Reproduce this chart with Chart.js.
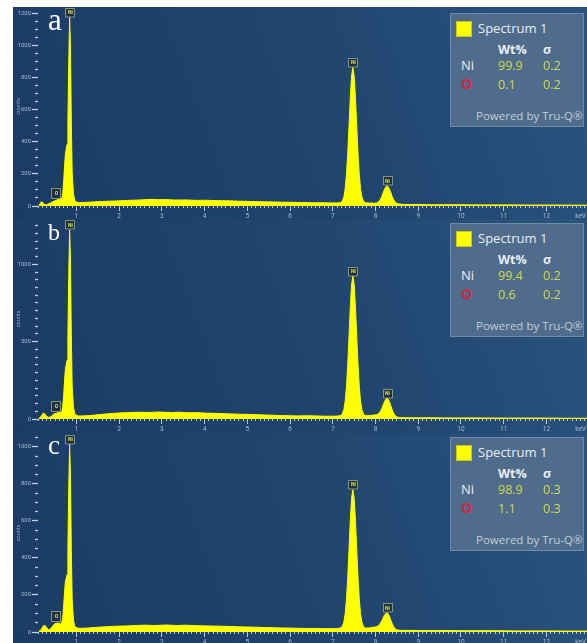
<!DOCTYPE html>
<html lang="en">
<head>
<meta charset="UTF-8">
<title>EDS spectra a, b, c</title>
<style>
  body {
    margin: 0;
    width: 587px;
    height: 643px;
    overflow: hidden;
    position: relative;
    background: #ffffff;
    font-family: 'Open Sans', sans-serif;
  }
  .panel { position: absolute; left: 13px; width: 574px; overflow: hidden; }
  .panel canvas { position: absolute; left: 0; top: 0; }
  .tag {
    position: absolute;
    left: 35px;
    font-family: 'Liberation Serif', serif;
    color: #ffffff;
    line-height: 1;
  }
  .legend {
    position: absolute;
    left: 437px;
    width: 134px;
    height: 114px;
    box-sizing: border-box;
    background: #4f6c8c;
    border: 1px solid rgba(190, 205, 222, 0.3);
    color: #e8eef4;
  }
  .legend span { position: absolute; white-space: nowrap; line-height: 1; }
  .legend .swatch { left: 5px; top: 7px; width: 16px; height: 16px; background: #ffff00; border: 1px solid #c9c900; box-sizing: border-box; }
  .legend .name { left: 27px; top: 8px; font-size: 13px; }
  .legend .head { top: 30px; font-size: 12.5px; font-weight: bold; }
  .legend .el { left: 10px; font-size: 13px; }
  .legend .val { font-size: 12.5px; color: #cfdb45; }
  .legend .pow { left: 25px; top: 96px; font-size: 11.5px; color: #c3ccd6; }
</style>
<script src="https://cdn.jsdelivr.net/npm/chart.js"></script>
</head>
<body>

<div class="panel" id="panelA"><canvas id="chartA" width="574" height="212"></canvas></div>
<div class="panel" id="panelB"><canvas id="chartB" width="574" height="215"></canvas></div>
<div class="panel" id="panelC"><canvas id="chartC" width="574" height="209"></canvas></div>

<script>
// energy axis (keV), shared by the three spectra
const energyKeV = [
  0.12, 0.15, 0.18, 0.21, 0.25, 0.3, 0.35, 0.4, 0.45, 0.5, 0.55,
  0.6, 0.63, 0.66, 0.68, 0.70, 0.72, 0.74, 0.76, 0.78, 0.80, 0.82, 0.84, 0.86, 0.88, 0.90, 0.93, 0.96, 1.0, 1.05,
  1.15, 1.3, 1.45, 1.6, 1.75, 1.9, 2.05, 2.2, 2.35, 2.5, 2.65, 2.8, 2.95, 3.1, 3.25, 3.4, 3.55, 3.7, 3.85, 4.0,
  4.2, 4.4, 4.6, 4.8, 5.0, 5.2, 5.4, 5.6, 5.8, 6.0, 6.2, 6.4, 6.6, 6.8, 7.0, 7.1,
  7.17, 7.22, 7.26, 7.29, 7.32, 7.35, 7.38, 7.41, 7.44, 7.47, 7.50, 7.53, 7.56, 7.59, 7.62, 7.65, 7.68, 7.72, 7.77,
  7.85, 7.92,
  7.97, 8.02, 8.06, 8.09, 8.12, 8.15, 8.18, 8.21, 8.24, 8.27, 8.30, 8.33, 8.36, 8.39, 8.42, 8.45, 8.48, 8.52, 8.57,
  8.65, 8.8, 9.0, 9.3, 9.6, 10.0, 10.4, 10.8, 11.2, 11.6, 12.0, 12.4, 12.8, 12.95
];

// counts
const countsA = [
  6, 15, 26, 22, 10, 8, 14, 20, 27, 33, 38,
  42, 45, 48, 80, 150, 240, 320, 355, 385, 520, 890, 1175, 1000, 520, 210, 75, 36, 25, 22,
  22, 24, 26, 28, 30, 31, 33, 35, 36, 38, 40, 41, 39, 40, 38, 37, 38, 36, 35, 36,
  34, 33, 32, 30, 29, 27, 26, 25, 24, 23, 22, 21, 20, 20, 19, 19,
  20, 29, 58, 108, 196, 330, 500, 677, 812, 863, 812, 677, 500, 330, 196, 108, 58, 29, 20,
  18, 18,
  17, 19, 24, 32, 44, 61, 83, 104, 119, 125, 119, 103, 82, 59, 42, 29, 20, 14, 12,
  10, 9, 9, 8, 8, 8, 7, 7, 7, 6, 6, 6, 5, 5
];
const countsB = [
  5, 10, 20, 35, 36, 18, 10, 15, 28, 35, 38,
  45, 40, 50, 85, 150, 240, 320, 350, 380, 540, 930, 1222, 1040, 540, 215, 75, 36, 24, 20,
  20, 22, 26, 30, 34, 37, 40, 41, 43, 44, 42, 44, 45, 43, 42, 44, 41, 40, 41, 38,
  37, 35, 33, 31, 30, 28, 26, 24, 22, 21, 20, 21, 20, 18, 18, 19,
  21, 31, 62, 115, 210, 353, 536, 725, 870, 924, 870, 725, 536, 353, 210, 115, 62, 31, 21,
  22, 24,
  26, 28, 33, 40, 52, 70, 91, 112, 128, 135, 128, 108, 84, 60, 40, 26, 17, 12, 10,
  9, 8, 8, 8, 7, 7, 7, 6, 6, 6, 6, 5, 5, 5
];
const countsC = [
  4, 8, 15, 28, 38, 25, 12, 18, 35, 45, 48,
  48, 42, 55, 80, 140, 210, 270, 290, 310, 450, 780, 1015, 855, 440, 180, 65, 32, 24, 20,
  20, 22, 25, 27, 29, 31, 32, 33, 35, 36, 37, 35, 36, 38, 36, 35, 37, 35, 34, 33,
  32, 31, 30, 28, 27, 26, 24, 23, 22, 21, 20, 19, 19, 18, 18, 19,
  21, 29, 54, 99, 177, 296, 447, 604, 724, 769, 724, 604, 447, 296, 177, 99, 54, 29, 21,
  22, 25,
  26, 29, 33, 40, 50, 62, 77, 91, 100, 103, 97, 82, 64, 46, 31, 21, 14, 11, 9,
  9, 9, 8, 8, 8, 7, 7, 7, 6, 6, 6, 5, 5, 5
];

// peak markers
const peakNames = ['O', 'Ni', 'Ni', 'Ni'];
const peakKeV = [0.52, 0.84, 7.47, 8.27];

// quantification boxes
const panelTags = ['a', 'b', 'c'];
const spectrumName = 'Spectrum 1';
const wtNi = ['99.9', '99.4', '98.9'];
const sigmaNi = ['0.2', '0.2', '0.3'];
const wtO = ['0.1', '0.6', '1.1'];
const sigmaO = ['0.2', '0.2', '0.3'];

// y label every so many counts
const yMajorStep = [200, 500, 200];

// layout of each panel (pixels)
const panels = [
  { box: 'panelA', canvas: 'chartA', top: 7, height: 212, counts: countsA, yMax: 1240, xAxisH: 13, legendTop: 6, tagTop: -3, tagSize: 31 },
  { box: 'panelB', canvas: 'chartB', top: 219, height: 215, counts: countsB, yMax: 1293, xAxisH: 15, legendTop: 4, tagTop: 1, tagSize: 24 },
  { box: 'panelC', canvas: 'chartC', top: 434, height: 209, counts: countsC, yMax: 1070, xAxisH: 11, legendTop: 3, tagTop: -2, tagSize: 27 }
];

const isWhole = v => Math.abs(v - Math.round(v)) < 1e-6;

const backdrop = {
  id: 'backdrop',
  beforeDraw(chart) {
    const { ctx, width, height } = chart;
    const g = ctx.createLinearGradient(0, height, width, 0);
    g.addColorStop(0, '#1a3b65');
    g.addColorStop(0.55, '#20456f');
    g.addColorStop(1, '#2a5480');
    ctx.save();
    ctx.fillStyle = g;
    ctx.fillRect(0, 0, width, height);
    ctx.restore();
  }
};

const peakTags = {
  id: 'peakTags',
  afterDatasetsDraw(chart) {
    const { ctx, scales: { x, y } } = chart;
    const pts = chart.data.datasets[0].data;
    ctx.save();
    peakNames.forEach((name, i) => {
      let top = 0;
      pts.forEach(p => { if (Math.abs(p.x - peakKeV[i]) <= 0.04) top = Math.max(top, p.y); });
      const px = x.getPixelForValue(peakKeV[i]);
      const py = y.getPixelForValue(top) - (name === 'O' ? 2 : 1);
      const w = 9, h = name === 'O' ? 10 : 8.5;
      ctx.beginPath();
      ctx.rect(Math.round(px - w / 2) + 0.5, Math.round(py - h) + 0.5, w, h);
      ctx.fillStyle = 'rgba(30, 46, 60, 0.9)';
      ctx.fill();
      ctx.strokeStyle = 'rgba(150, 168, 130, 0.85)';
      ctx.lineWidth = 1;
      ctx.stroke();
      ctx.fillStyle = '#d9e35a';
      ctx.font = 'bold 5px Roboto';
      ctx.textAlign = 'center';
      ctx.textBaseline = 'middle';
      ctx.fillText(name, Math.round(px) + 0.5, Math.round(py - h / 2) + 0.8);
    });
    ctx.restore();
  }
};

const unitLabel = {
  id: 'unitLabel',
  afterDraw(chart) {
    const { ctx, scales: { x } } = chart;
    ctx.save();
    ctx.fillStyle = '#a9bbd0';
    ctx.font = '6.5px Roboto';
    ctx.textAlign = 'right';
    ctx.textBaseline = 'middle';
    ctx.fillText('keV', chart.width - 1, x.top + 10);
    ctx.restore();
  }
};

panels.forEach((p, n) => {
  const box = document.getElementById(p.box);
  box.style.top = p.top + 'px';
  box.style.height = p.height + 'px';

  const tag = document.createElement('div');
  tag.className = 'tag';
  tag.textContent = panelTags[n];
  tag.style.top = p.tagTop + 'px';
  tag.style.fontSize = p.tagSize + 'px';
  box.appendChild(tag);

  const lg = document.createElement('div');
  lg.className = 'legend';
  lg.style.top = p.legendTop + 'px';
  lg.innerHTML =
    '<span class="swatch"></span>' +
    '<span class="name">' + spectrumName + '</span>' +
    '<span class="head" style="left:47px">Wt%</span>' +
    '<span class="head" style="left:92px">σ</span>' +
    '<span class="el" style="top:45px">Ni</span>' +
    '<span class="val" style="left:47px;top:46px">' + wtNi[n] + '</span>' +
    '<span class="val" style="left:92px;top:46px">' + sigmaNi[n] + '</span>' +
    '<span class="el" style="top:63px;color:#d2283c;font-weight:bold;font-size:14px">O</span>' +
    '<span class="val" style="left:47px;top:65px">' + wtO[n] + '</span>' +
    '<span class="val" style="left:92px;top:65px">' + sigmaO[n] + '</span>' +
    '<span class="pow">Powered by Tru-Q®</span>';
  box.appendChild(lg);

  new Chart(document.getElementById(p.canvas), {
    type: 'line',
    data: {
      datasets: [{
        data: energyKeV.map((e, k) => ({ x: e, y: p.counts[k] })),
        borderColor: '#ffff00',
        backgroundColor: '#ffff00',
        borderWidth: 1,
        pointRadius: 0,
        tension: 0,
        fill: 'origin'
      }]
    },
    options: {
      responsive: false,
      animation: false,
      layout: { padding: 0 },
      plugins: { legend: { display: false }, tooltip: { enabled: false } },
      scales: {
        x: {
          type: 'linear',
          min: 0.1,
          max: 12.95,
          afterFit(s) { s.height = p.xAxisH; s.paddingLeft = 0; s.paddingRight = 0; },
          border: { display: false },
          grid: {
            drawOnChartArea: false,
            tickLength: 5,
            tickColor: '#b9cade',
            tickBorderDash: c => (c.tick && isWhole(c.tick.value)) ? [] : [2, 10]
          },
          ticks: {
            stepSize: 0.1,
            includeBounds: false,
            autoSkip: false,
            maxRotation: 0,
            padding: 1,
            color: '#a9bbd0',
            font: { family: 'Roboto', size: 6.5 },
            callback: v => isWhole(v) ? String(Math.round(v)) : ''
          }
        },
        y: {
          min: 0,
          max: p.yMax,
          afterFit(s) { s.width = 25; s.paddingTop = 0; s.paddingBottom = 0; },
          border: { display: false },
          title: {
            display: true,
            text: 'counts',
            color: '#8fa3bd',
            font: { family: 'Roboto', size: 5.5 },
            padding: { top: 2, bottom: 0 }
          },
          grid: {
            drawOnChartArea: false,
            tickLength: 6,
            tickColor: '#c2d0e2',
            tickWidth: 1.3,
            tickBorderDash: c => (c.tick && c.tick.value % yMajorStep[n] === 0) ? [] : [3, 3],
            tickBorderDashOffset: 3
          },
          ticks: {
            stepSize: 50,
            includeBounds: false,
            autoSkip: false,
            padding: 1,
            color: '#a9bbd0',
            font: { family: 'Roboto', size: 6 },
            callback: v => v % yMajorStep[n] === 0 ? String(v) : ''
          }
        }
      }
    },
    plugins: [backdrop, peakTags, unitLabel]
  });
});
</script>
</body>
</html>
